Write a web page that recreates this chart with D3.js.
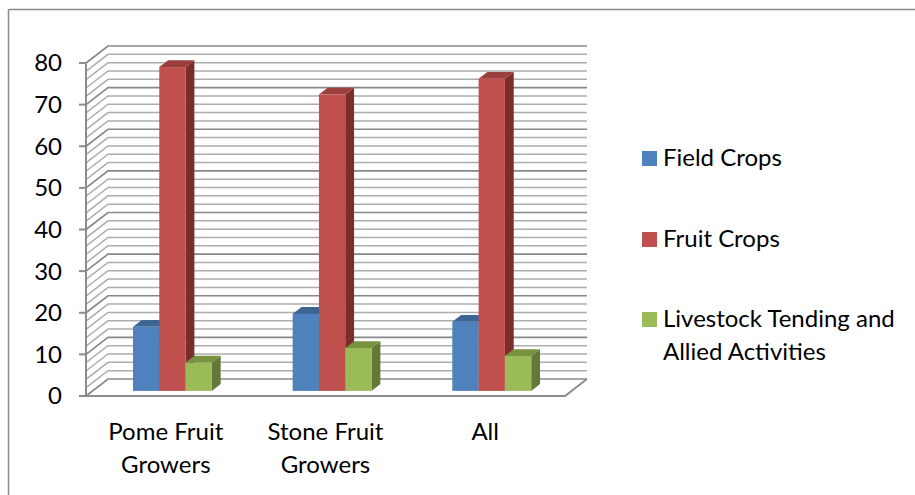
<!DOCTYPE html>
<html>
<head>
<meta charset="utf-8">
<script src="https://cdn.jsdelivr.net/npm/d3@7"></script>
<style>
  html, body { margin: 0; padding: 0; background: #fff; }
  svg { display: block; font-family: Lato, "Open Sans", sans-serif; }
</style>
</head>
<body>
<svg id="chart" width="915" height="495"></svg>
<script>
// Categories, series and values (percent of growers)
const categories = ["Pome Fruit Growers", "Stone Fruit Growers", "All"];
const categoryLines = [["Pome Fruit", "Growers"], ["Stone Fruit", "Growers"], ["All"]];
const seriesNames = ["Field Crops", "Fruit Crops", "Livestock Tending and Allied Activities"];
const legendLines = [["Field Crops"], ["Fruit Crops"], ["Livestock Tending and", "Allied Activities"]];
const fieldCrops = [15.4, 18.5, 16.6];
const fruitCrops = [77.8, 71.2, 75.0];
const livestock = [6.8, 10.3, 8.4];
const yTicks = [0, 10, 20, 30, 40, 50, 60, 70, 80];
const gridStep = 2;

const seriesValues = [fieldCrops, fruitCrops, livestock];
const frontColors = ["#4F81BD", "#C0504D", "#9BBB59"];
const topColors = ["#3D6593", "#9A3F3C", "#78923F"];
const sideColors = ["#2F4D71", "#7A2E2C", "#63793A"];
const fontSize = 24;

const svg = d3.select("#chart");

// Outer frame (top and left edges)
svg.append("line").attr("x1", 8.5).attr("y1", 9.5).attr("x2", 915).attr("y2", 9.5)
  .attr("stroke", "#8a8a8a").attr("stroke-width", 1.5);
svg.append("line").attr("x1", 8.5).attr("y1", 9.5).attr("x2", 8.5).attr("y2", 495)
  .attr("stroke", "#8a8a8a").attr("stroke-width", 1.5);

// Oblique 3D layout: front plane scales plus a depth offset
const x = d3.scaleBand().domain(categories).range([86, 565]).padding(0);
const y = d3.scaleLinear().domain([0, 80]).range([396, 63]);
const depthX = 22, depthY = -17;
const barFront = 0.3, barBack = 0.7;
const xs = d3.scaleBand().domain(seriesNames).range([0, x.bandwidth()])
  .paddingInner(0).paddingOuter(1.535);

const P = (px, py, t) => [px + t * depthX, py + t * depthY];
const poly = pts => "M" + pts.map(p => p.join(",")).join("L") + "Z";

const x0 = x.range()[0], x1 = x.range()[1];

// Walls and gridlines
const gridVals = d3.range(0, 80 + 0.001, gridStep);
const grid = svg.append("g");
gridVals.forEach(v => {
  const major = v % 10 === 0;
  const stroke = major ? "#888888" : "#adadad";
  const a = P(x0, y(v), 0), b = P(x0, y(v), 1), c = P(x1, y(v), 1);
  grid.append("path")
    .attr("d", `M${a}L${b}L${c}`)
    .attr("fill", "none").attr("stroke", stroke)
    .attr("stroke-width", major ? 1.7 : 1.5);
});

// Floor outline
{
  const a = P(x0, y(0), 0), b = P(x1, y(0), 0), c = P(x1, y(0), 1);
  svg.append("path").attr("d", `M${a}L${b}L${c}`)
    .attr("fill", "none").attr("stroke", "#8c8c8c").attr("stroke-width", 2);
}

// Value axis with ticks
const axis = svg.append("g");
axis.append("line").attr("x1", x0).attr("x2", x0).attr("y1", y(80)).attr("y2", y(0))
  .attr("stroke", "#8c8c8c").attr("stroke-width", 2);
yTicks.forEach(v => {
  axis.append("line").attr("x1", x0 - 7).attr("x2", x0).attr("y1", y(v)).attr("y2", y(v))
    .attr("stroke", "#8c8c8c").attr("stroke-width", 2);
  axis.append("text").attr("x", 62).attr("y", y(v)).attr("dy", "0.35em")
    .attr("text-anchor", "end").attr("font-size", fontSize).attr("fill", "#000").text(v);
});

// Bars (left to right so front faces overlap neighbours' side faces)
const bars = svg.append("g");
const bdx = (barBack - barFront) * depthX, bdy = (barBack - barFront) * depthY;
categories.forEach((cat, ci) => {
  seriesNames.forEach((s, si) => {
    const v = seriesValues[si][ci];
    const [xl, yb] = P(x(cat) + xs(s), y(0), barFront);
    const [, yt] = P(0, y(v), barFront);
    const xr = xl + xs.bandwidth();
    bars.append("path").attr("d", poly([[xr, yt], [xr + bdx, yt + bdy], [xr + bdx, yb + bdy], [xr, yb]]))
      .attr("fill", sideColors[si]);
    bars.append("path").attr("d", poly([[xl, yt], [xr, yt], [xr + bdx, yt + bdy], [xl + bdx, yt + bdy]]))
      .attr("fill", topColors[si]);
    bars.append("rect").attr("x", xl).attr("y", yt).attr("width", xr - xl).attr("height", yb - yt)
      .attr("fill", frontColors[si]);
  });
});

// Category labels
categories.forEach((cat, ci) => {
  const t = svg.append("text").attr("text-anchor", "middle").attr("font-size", fontSize).attr("fill", "#000");
  categoryLines[ci].forEach((ln, li) => {
    t.append("tspan").attr("x", x(cat) + x.bandwidth() / 2).attr("y", 440 + li * 33).text(ln);
  });
});

// Legend
const legendY = [166, 247, 327];
seriesNames.forEach((s, si) => {
  svg.append("rect").attr("x", 642).attr("y", legendY[si] - 15).attr("width", 15).attr("height", 15)
    .attr("fill", frontColors[si]);
  const t = svg.append("text").attr("font-size", fontSize).attr("fill", "#000");
  legendLines[si].forEach((ln, li) => {
    t.append("tspan").attr("x", 663).attr("y", legendY[si] + li * 33).text(ln);
  });
});
</script>
</body>
</html>
